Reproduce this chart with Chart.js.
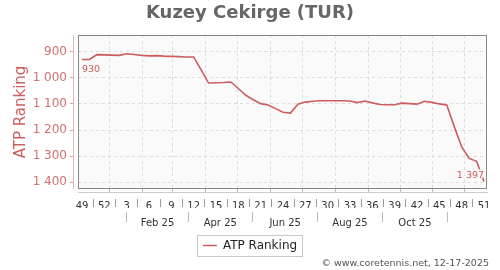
<!DOCTYPE html>
<html>
<head>
<meta charset="utf-8">
<script src="https://cdn.jsdelivr.net/npm/chart.js@4.4.1/dist/chart.umd.min.js"></script>
<style>
  html, body { margin: 0; padding: 0; background: #fff; }
  #wrap { position: relative; width: 500px; height: 270px; }
  #credit { position: absolute; right: 11px; top: 257px; line-height: 11px; font: 9.5px "DejaVu Sans"; color: #555; white-space: nowrap; }
</style>
</head>
<body>
<div id="wrap">
  <canvas id="rankChart" width="500" height="270"></canvas>
  <div id="credit">© www.coretennis.net, 12-17-2025</div>
</div>
<script>
const chartTitle = 'Kuzey Cekirge (TUR)';
const seriesName = 'ATP Ranking';
const firstWeekDate = '2024-12-06';
const weeks = [49, 50, 51, 52, 1, 2, 3, 4, 5, 6, 7, 8, 9, 10, 11, 12, 13, 14, 15, 16, 17, 18, 19, 20,
  21, 22, 23, 24, 25, 26, 27, 28, 29, 30, 31, 32, 33, 34, 35, 36, 37, 38, 39, 40, 41, 42, 43, 44, 45,
  46, 47, 48, 49, 50, 51];
const rankings = [930, 930, 911, 912, 913, 914, 908, 911, 914, 916,
  915, 917, 918, 919, 920, 920, 970, 1020, 1019, 1018,
  1016, 1041, 1067, 1084, 1099, 1104, 1118, 1132, 1135, 1101,
  1093, 1090, 1088, 1088, 1088, 1088, 1089, 1095, 1089, 1096,
  1102, 1103, 1103, 1097, 1099, 1101, 1090, 1094, 1100, 1104,
  1187, 1265, 1309, 1320, 1397];
const rankTicks = [900, 1000, 1100, 1200, 1300, 1400];
const monthStarts = ['2025-01-01', '2025-02-01', '2025-03-01', '2025-04-01', '2025-05-01', '2025-06-01',
  '2025-07-01', '2025-08-01', '2025-09-01', '2025-10-01', '2025-11-01', '2025-12-01'];
const monthLabels = ['Feb 25', 'Apr 25', 'Jun 25', 'Aug 25', 'Oct 25'];
const monthLabelDates = ['2025-02-15', '2025-04-15', '2025-06-15', '2025-08-15', '2025-10-15'];

const lineColor = '#cd5c5c';
const xMin = -0.54, xMax = 54.4;

function weeksFrom(date) {
  return (Date.parse(date) - Date.parse(firstWeekDate)) / (7 * 86400000);
}

function formatRank(v) {
  return String(v).replace(/\B(?=(\d{3})+(?!\d))/g, ' ');
}

Chart.defaults.font.family = '"DejaVu Sans"';

const decorations = {
  id: 'decorations',
  beforeDraw(chart) {
    const {ctx, chartArea: a} = chart;
    ctx.save();
    ctx.fillStyle = '#fafafa';
    ctx.fillRect(a.left, a.top, a.right - a.left, a.bottom - a.top);
    ctx.restore();
  },
  beforeDatasetsDraw(chart) {
    const {ctx, chartArea: a} = chart;
    ctx.save();
    ctx.strokeStyle = '#888';
    ctx.lineWidth = 1;
    ctx.strokeRect(Math.round(a.left) + 0.5, Math.round(a.top) + 0.5,
      Math.round(a.right - a.left) - 1, Math.round(a.bottom - a.top) - 1);
    ctx.strokeStyle = 'rgba(205, 92, 92, 0.45)';
    ctx.beginPath();
    ctx.moveTo(Math.round(a.left) - 4.5, a.top);
    ctx.lineTo(Math.round(a.left) - 4.5, a.bottom);
    ctx.stroke();
    ctx.restore();
  },
  afterDatasetsDraw(chart) {
    const {ctx} = chart;
    const points = chart.getDatasetMeta(0).data;
    const first = points[0];
    const last = points[points.length - 1];
    ctx.save();
    ctx.font = '9.5px "DejaVu Sans"';
    ctx.fillStyle = lineColor;
    ctx.strokeStyle = '#fafafa';
    ctx.lineWidth = 3;
    ctx.textBaseline = 'alphabetic';
    ctx.textAlign = 'left';
    ctx.strokeText(formatRank(rankings[0]), first.x, first.y + 12.5);
    ctx.fillText(formatRank(rankings[0]), first.x, first.y + 12.5);
    ctx.textAlign = 'right';
    ctx.strokeText(formatRank(rankings[rankings.length - 1]), last.x, last.y - 3.5);
    ctx.fillText(formatRank(rankings[rankings.length - 1]), last.x, last.y - 3.5);
    ctx.restore();
  },
  afterDraw(chart) {
    const {ctx} = chart;
    const boxes = chart.legend.legendHitBoxes;
    if (!boxes || !boxes.length) return;
    const hb = boxes[0];
    ctx.save();
    ctx.strokeStyle = '#c8c8c8';
    ctx.lineWidth = 1;
    ctx.strokeRect(Math.round(hb.left - 6) + 0.5, Math.round(hb.top - 4.5) + 0.5,
      Math.round(hb.width + 11), 21);
    ctx.restore();
  }
};

const ctx = document.getElementById('rankChart').getContext('2d');
new Chart(ctx, {
  type: 'line',
  data: {
    datasets: [{
      label: seriesName,
      data: rankings.map((r, i) => ({x: i, y: r})),
      borderColor: lineColor,
      backgroundColor: lineColor,
      borderWidth: 1.6,
      pointRadius: 0,
      pointStyle: 'line',
      tension: 0,
      fill: false,
      xAxisID: 'x',
      yAxisID: 'y'
    }]
  },
  options: {
    responsive: false,
    animation: false,
    layout: { padding: { left: 0, right: 0, top: 0, bottom: 8.5 } },
    plugins: {
      title: {
        display: true,
        text: chartTitle,
        color: '#666',
        font: { size: 18, weight: 'bold' },
        padding: { top: 3, bottom: 10.4 }
      },
      legend: {
        position: 'bottom',
        labels: {
          usePointStyle: true,
          pointStyleWidth: 14,
          color: '#222',
          font: { size: 12 },
          padding: 8
        }
      },
      tooltip: { enabled: false }
    },
    scales: {
      y: {
        type: 'linear',
        position: 'left',
        reverse: true,
        min: 836,
        max: 1426,
        bounds: 'data',
        afterBuildTicks: s => { s.ticks = rankTicks.map(v => ({value: v})); },
        afterFit: s => { s.width = 78; },
        title: {
          display: true,
          text: seriesName,
          color: lineColor,
          font: { size: 15 },
          padding: { top: 12, bottom: 0 }
        },
        ticks: {
          color: '#d27070',
          font: { size: 12 },
          padding: 3,
          callback: v => formatRank(v)
        },
        grid: {
          color: '#dcdcdc',
          tickLength: 8,
          tickColor: 'rgba(205, 92, 92, 0.6)',
          tickBorderDash: [3, 100]
        },
        border: { display: false, dash: [3, 3] }
      },
      yr: {
        type: 'linear',
        position: 'right',
        afterFit: s => { s.width = 13; },
        ticks: { display: false },
        grid: { display: false },
        border: { display: false }
      },
      xm: {
        type: 'linear',
        position: 'bottom',
        weight: 1,
        min: xMin,
        max: xMax,
        bounds: 'data',
        afterBuildTicks: s => { s.ticks = monthStarts.map(d => ({value: weeksFrom(d)})); },
        afterFit: s => { s.height = 3; },
        ticks: { display: false },
        grid: {
          color: '#dcdcdc',
          tickLength: 3,
          tickColor: '#bbb',
          tickBorderDash: []
        },
        border: { display: false, dash: [3, 3] }
      },
      x: {
        type: 'linear',
        position: 'bottom',
        weight: 2,
        min: xMin,
        max: xMax,
        bounds: 'data',
        afterBuildTicks: s => {
          s.ticks = weeks.map((w, i) => i).filter(i => i % 3 === 0).map(i => ({value: i}));
        },
        afterFit: s => { s.height = 16; },
        ticks: {
          autoSkip: false,
          maxRotation: 0,
          padding: -7,
          color: '#333',
          font: { size: 10 },
          callback: v => weeks[v]
        },
        grid: {
          drawOnChartArea: false,
          offset: true,
          tickLength: 15,
          tickColor: '#999',
          tickBorderDash: [0, 6, 9, 50]
        },
        border: { display: true, color: '#ccc' }
      },
      xl: {
        type: 'linear',
        position: 'bottom',
        weight: 3,
        min: xMin,
        max: xMax,
        bounds: 'data',
        afterBuildTicks: s => { s.ticks = monthLabelDates.map(d => ({value: weeksFrom(d)})); },
        afterFit: s => { s.height = 23.5; },
        ticks: {
          autoSkip: false,
          maxRotation: 0,
          padding: -5,
          color: '#333',
          font: { size: 10 },
          callback: (v, i) => monthLabels[i]
        },
        grid: {
          drawOnChartArea: false,
          offset: true,
          tickLength: 14,
          tickColor: '#bbb',
          tickBorderDash: [0, 4, 11, 50]
        },
        border: { display: false }
      }
    }
  },
  plugins: [decorations]
});
</script>
</body>
</html>
